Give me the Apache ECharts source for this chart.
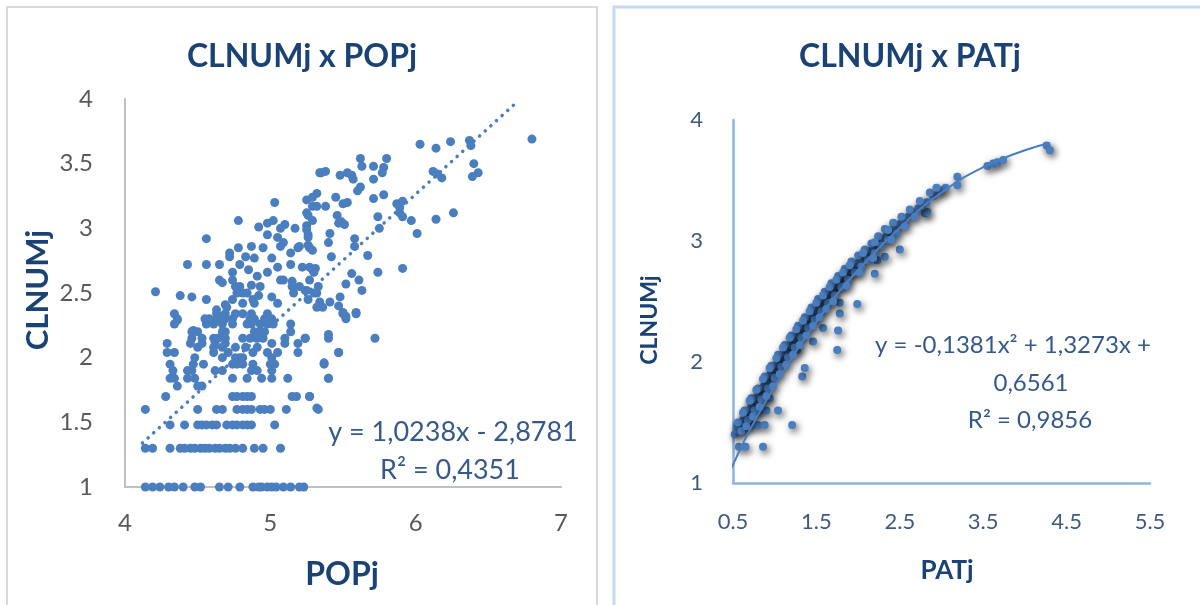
<!DOCTYPE html>
<html><head><meta charset="utf-8">
<script src="https://cdn.jsdelivr.net/npm/echarts@6/dist/echarts.min.js"></script>
<style>html,body{margin:0;padding:0;background:#fff}#c{width:1200px;height:605px}</style>
</head><body><div id="c"></div><script>
// ---------- Left chart: CLNUMj x POPj ----------
const leftTitle = 'CLNUMj x POPj';
const leftXName = 'POPj';
const yName = 'CLNUMj';
const leftXTicks = [4, 5, 6, 7];
const leftYTicks = [1, 1.5, 2, 2.5, 3, 3.5, 4];
// points grouped by CLNUMj level (discrete rows)
const rowLevels = [1.0, 1.3, 1.48, 1.6, 1.7, 1.78, 1.84, 1.9, 1.95, 2.0, 2.04, 2.08, 2.11, 2.15, 2.2, 2.26, 2.3, 2.34];
const rowPop = [
  [4.14,4.19,4.24,4.30,4.34,4.40,4.48,4.52,4.65,4.71,4.79,4.88,4.92,4.94,4.98,5.01,5.04,5.09,5.14,5.20,5.23],
  [4.14,4.19,4.31,4.38,4.41,4.45,4.48,4.52,4.55,4.58,4.62,4.65,4.69,4.72,4.76,4.81,4.89,4.95,5.07],
  [4.31,4.41,4.50,4.53,4.56,4.60,4.63,4.70,4.74,4.77,4.81,4.84,4.87,5.03],
  [4.14,4.50,4.63,4.67,4.77,4.81,4.84,4.87,4.93,4.96,5.00,5.11,5.33],
  [4.28,4.74,4.77,4.81,4.84,4.87,5.15,5.18,5.27],
  [4.36,4.50,4.53],
  [4.31,4.34,4.43,4.48,4.74,4.84,4.94,5.01,5.12,5.40],
  [4.33,4.43,4.46,4.62,4.67,4.87,4.91,5.01],
  [4.31,4.47,4.54,4.74,4.77,4.81,4.88,5.00,5.03,5.37],
  [4.48,4.67,4.76,4.79,4.81,5.01],
  [4.29,4.34,4.61,4.71,4.88,4.98,5.05,5.19,5.47],
  [4.50,4.61,4.67,4.76,4.83,4.91],
  [4.29,4.45,4.53,4.62,4.69,5.01,5.10,5.19],
  [4.46,4.53,4.61,4.64,4.69,4.81,4.86,4.91,4.95,5.10,5.24,5.40,5.72],
  [4.46,4.50,4.67,4.69,4.89,4.93,4.96,5.14],
  [4.34,4.56,4.61,4.67,4.74,4.84,4.87,4.93,4.98,5.02,5.14],
  [4.36,4.55,4.58,4.63,4.69,4.74,4.86,4.89,4.96,5.01,5.52],
  [4.34,4.63,4.69,4.76,4.81,4.87,4.98,5.50,5.59]
];
// remaining scattered points [POPj, CLNUMj]
const freePoints = [
  [5.34,3.43],[5.32,3.27],[5.25,3.22],[5.32,3.17],[5.03,3.20],[4.78,3.06],[4.98,3.04],[5.02,3.06],[4.92,3.01],[5.07,3.00],
  [5.10,3.03],[5.17,3.00],[5.25,3.02],[5.26,3.10],[4.56,2.92],[4.98,2.95],[5.05,2.93],[5.09,2.89],[5.07,2.86],[5.26,2.95],
  [4.87,2.86],[4.78,2.85],[4.72,2.81],[4.95,2.85],[5.19,2.85],[5.26,2.87],[5.29,2.83],[4.43,2.72],[4.56,2.72],[4.65,2.72],
  [4.83,2.78],[4.89,2.77],[5.01,2.77],[5.14,2.72],[5.22,2.70],[4.79,2.72],[4.85,2.68],[4.74,2.66],[4.98,2.66],[4.91,2.63],
  [5.07,2.60],[5.15,2.59],[5.29,2.68],[4.21,2.51],[4.38,2.48],[4.46,2.47],[4.56,2.45],[4.67,2.58],[4.76,2.55],[4.81,2.50],
  [4.87,2.56],[4.92,2.48],[5.01,2.47],[5.15,2.55],[5.25,2.52],[5.33,2.55],[4.69,2.41],[4.81,2.42],[4.89,2.42],[5.05,2.42],
  [4.36,2.29],[4.47,2.21],[4.56,2.29],[4.63,2.37],[4.67,2.32],[4.70,2.39],[4.74,2.45],[4.77,2.50],[4.79,2.55],[4.84,2.50],
  [4.88,2.45],[4.93,2.55],[4.74,2.60],[4.72,2.78],[4.65,2.60],[5.05,2.70],[5.09,2.60],[5.14,2.81],[5.20,2.86],[5.20,2.55],
  [5.27,2.70],[5.27,2.60],[5.32,2.50],[5.32,2.39],[5.16,2.50],[5.25,2.99],[5.29,3.06],[5.25,3.12],[5.29,3.24],[5.29,3.17],
  [5.62,3.54],[5.80,3.54],[5.63,3.48],[5.71,3.48],[5.78,3.47],[5.77,3.43],[5.35,3.43],[5.38,3.44],[5.48,3.41],[5.53,3.43],
  [5.56,3.41],[5.57,3.38],[5.71,3.38],[5.62,3.32],[5.60,3.29],[5.45,3.24],[5.71,3.23],[5.78,3.26],[5.50,3.19],[5.53,3.20],
  [5.38,3.17],[5.46,3.10],[5.49,3.05],[5.51,3.03],[5.47,3.04],[5.74,3.09],[5.75,3.00],[5.26,2.93],[5.41,2.96],[5.40,2.89],
  [5.58,2.92],[5.27,2.85],[5.42,2.78],[5.58,2.86],[5.67,2.79],[5.31,2.69],[5.30,2.66],[5.56,2.65],[5.61,2.60],[5.74,2.66],
  [5.91,2.69],[5.52,2.57],[5.63,2.52],[5.24,2.52],[5.30,2.50],[5.26,2.45],[5.34,2.43],[5.41,2.43],[5.48,2.47],[5.36,2.39],
  [5.47,2.40],[5.50,2.35],[5.52,2.32],[5.59,2.35],[5.40,2.18],[5.24,2.15],[5.47,2.04],[5.37,1.96],[5.40,1.84],
  [5.27,1.70],[5.32,1.61],[6.03,3.65],[6.14,3.62],[6.24,3.67],[6.37,3.68],[6.38,3.64],[6.80,3.69],[6.12,3.44],
  [6.15,3.42],[6.18,3.39],[6.40,3.50],[6.43,3.43],[6.39,3.40],[5.87,3.19],[5.89,3.16],[5.91,3.21],[5.89,3.12],[5.91,3.09],
  [5.97,3.06],[6.01,2.96],[6.14,3.07],[6.26,3.12]
];
// linear trendline end points (y = 1,0238x - 2,8781)
const leftTrendX = [4.12, 6.70];
const leftTrendY = [1.34, 3.98];
const leftEq = ['y = 1,0238x - 2,8781', 'R² = 0,4351'];

// ---------- Right chart: CLNUMj x PATj ----------
const rightTitle = 'CLNUMj x PATj';
const rightXName = 'PATj';
const rightXTicks = [0.5, 1.5, 2.5, 3.5, 4.5, 5.5];
const rightYTicks = [1, 2, 3, 4];
const patX = [
  0.57,0.65,0.86,0.55,0.60,0.66,0.73,0.80,0.88,1.21,0.70,0.76,0.82,0.90,1.04,0.72,0.80,0.86,0.94,
  1.33,1.36,1.75,1.76,1.99,2.20,2.50,2.80,1.27,1.46,1.58,1.78,1.78,2.23,2.32,2.83,
  0.52,0.55,0.58,0.60,0.62,0.65,0.67,0.70,0.72,0.75,0.77,0.80,0.82,0.85,0.87,0.90,0.92,0.95,0.97,1.00,
  1.02,1.05,1.08,1.10,1.12,1.15,1.18,1.20,1.23,1.25,1.28,1.30,1.33,1.35,1.38,1.40,1.43,1.45,1.48,1.50,
  1.53,1.55,1.58,1.60,1.63,1.65,1.68,1.70,1.73,1.75,1.78,1.80,1.83,1.85,1.88,1.90,1.93,1.95,1.98,2.00,
  2.05,2.10,2.15,2.20,2.25,2.30,2.35,2.40,2.45,2.50,2.55,2.60,2.66,2.72,2.77,2.82,2.90,2.96,3.00,3.05,
  3.19,3.19,3.55,3.62,3.67,3.74,4.26,4.30,
  0.56,0.64,0.72,0.80,0.88,0.96,1.04,1.12,1.20,1.28,1.36,1.44,1.52,1.60,1.68,1.76,1.84,1.92,2.00,2.08,
  2.16,2.24,2.32,2.42,2.52,2.62,2.74,2.86,2.94,
  0.60,0.68,0.76,0.84,0.92,1.00,1.08,1.16,1.24,1.32,1.40,1.48,1.56,1.64,1.72,1.80,1.88,1.96,2.04,2.12,
  2.20,2.28,2.36,2.46,2.56,2.68,
  0.62,0.70,0.78,0.86,0.94,1.02,1.10,1.18,1.26,1.34,1.42,1.50,1.58,1.66,1.74,1.82,1.90,2.06,2.20,2.36,
  0.66,0.74,0.82,0.90,0.98,1.06,1.14,1.22,1.30,1.38,1.46,1.54,1.62,1.70,1.86,2.02,2.18,2.40
];
const patY = [
  1.30,1.30,1.30,1.48,1.48,1.48,1.48,1.48,1.48,1.48,1.60,1.60,1.60,1.60,1.60,1.70,1.70,1.70,1.70,
  1.88,1.95,2.10,2.26,2.48,2.73,2.93,3.23,2.10,2.17,2.28,2.40,2.49,2.84,2.87,3.24,
  1.40,1.44,1.47,1.50,1.52,1.55,1.58,1.60,1.63,1.66,1.69,1.72,1.74,1.78,1.80,1.83,1.86,1.90,1.92,1.95,
  1.98,2.00,2.04,2.06,2.08,2.11,2.14,2.16,2.19,2.20,2.23,2.25,2.28,2.30,2.33,2.35,2.37,2.39,2.41,2.43,
  2.46,2.48,2.50,2.52,2.55,2.56,2.58,2.60,2.63,2.64,2.66,2.68,2.71,2.72,2.74,2.76,2.78,2.79,2.81,2.82,
  2.85,2.88,2.92,2.95,2.99,3.02,3.06,3.09,3.11,3.14,3.17,3.20,3.24,3.27,3.30,3.32,3.37,3.41,3.42,3.44,
  3.53,3.46,3.62,3.64,3.65,3.67,3.79,3.75,
  1.50,1.60,1.69,1.78,1.88,1.97,2.06,2.14,2.22,2.30,2.37,2.45,2.52,2.58,2.65,2.71,2.77,2.83,2.88,2.93,
  2.98,3.04,3.10,3.15,3.20,3.26,3.33,3.40,3.44,
  1.43,1.52,1.60,1.69,1.78,1.87,1.96,2.04,2.12,2.20,2.28,2.35,2.42,2.49,2.55,2.62,2.68,2.74,2.79,2.84,
  2.90,2.96,3.01,3.06,3.12,3.20,
  1.58,1.68,1.77,1.86,1.95,2.03,2.12,2.20,2.27,2.34,2.42,2.49,2.55,2.62,2.68,2.74,2.80,2.90,2.99,3.09,
  1.47,1.55,1.63,1.72,1.80,1.90,1.98,2.06,2.14,2.22,2.30,2.37,2.44,2.50,2.63,2.74,2.86,3.01
];
// polynomial trendline as it appears in the picture
const rightTrendX = [0.45, 0.5, 0.6, 0.75, 1.0, 1.25, 1.5, 1.75, 2.0, 2.5, 3.0, 3.5, 4.0, 4.3];
const rightTrendY = [1.08, 1.15, 1.30, 1.50, 1.80, 2.08, 2.33, 2.56, 2.76, 3.11, 3.40, 3.61, 3.75, 3.81];
const rightEq = ['y = -0,1381x² + 1,3273x +', '0,6561', 'R² = 0,9856'];

// ---------- build ----------
const leftPoints = [];
rowLevels.forEach((lv, i) => rowPop[i].forEach(x => leftPoints.push([x, lv])));
freePoints.forEach(p => leftPoints.push(p));
const rightPoints = patX.map((x, i) => [x, patY[i]]);

const FONT = 'Lato, "Open Sans", sans-serif';
const TITLE_C = '#1B4274';
const PT = '#4A7EBF';
const EQ_C = '#35598A';

const chart = echarts.init(document.getElementById('c'));
chart.setOption({
  animation: false,
  backgroundColor: '#fff',
  grid: [
    {left: 125, top: 99, width: 436, height: 388},
    {left: 733, top: 120, width: 417, height: 363}
  ],
  xAxis: [
    {type: 'value', gridIndex: 0, min: leftXTicks[0], max: leftXTicks[leftXTicks.length-1], interval: 1,
     axisLine: {show: true, lineStyle: {color: '#BFBFBF', width: 2}}, axisTick: {show: false}, splitLine: {show: false},
     axisLabel: {color: '#595959', fontSize: 24, margin: 24, fontFamily: FONT}},
    {type: 'value', gridIndex: 1, min: rightXTicks[0], max: rightXTicks[rightXTicks.length-1], interval: 0.5,
     axisLine: {show: true, lineStyle: {color: '#8DB4E2', width: 2.5}}, axisTick: {show: false}, splitLine: {show: false},
     axisLabel: {color: '#3F5A80', fontSize: 22, margin: 28, fontFamily: FONT,
       formatter: v => rightXTicks.some(t => Math.abs(t - v) < 1e-6) ? v.toFixed(1) : ''}}
  ],
  yAxis: [
    {type: 'value', gridIndex: 0, min: leftYTicks[0], max: leftYTicks[leftYTicks.length-1], interval: 0.5,
     axisLine: {show: true, lineStyle: {color: '#BFBFBF', width: 2}}, axisTick: {show: false}, splitLine: {show: false},
     axisLabel: {color: '#595959', fontSize: 24, margin: 32, align: 'right', fontFamily: FONT}},
    {type: 'value', gridIndex: 1, min: rightYTicks[0], max: rightYTicks[rightYTicks.length-1], interval: 1,
     axisLine: {show: true, lineStyle: {color: '#8DB4E2', width: 2.5}}, axisTick: {show: false}, splitLine: {show: false},
     axisLabel: {color: '#3F5A80', fontSize: 22, margin: 30, align: 'right', fontFamily: FONT}}
  ],
  series: [
    {type: 'scatter', xAxisIndex: 0, yAxisIndex: 0, data: leftPoints, symbolSize: 9,
     itemStyle: {color: PT, opacity: 1}},
    {type: 'line', xAxisIndex: 0, yAxisIndex: 0, data: leftTrendX.map((x, i) => [x, leftTrendY[i]]),
     symbol: 'none', lineStyle: {color: PT, width: 3.5, type: [0.1, 7.5], cap: 'round'}},
    {type: 'scatter', xAxisIndex: 1, yAxisIndex: 1, data: rightPoints, symbolSize: 8,
     itemStyle: {color: PT, opacity: 1, shadowBlur: 7, shadowColor: 'rgba(0,0,0,0.7)', shadowOffsetX: 2, shadowOffsetY: 3}},
    {type: 'line', xAxisIndex: 1, yAxisIndex: 1, data: rightTrendX.map((x, i) => [x, rightTrendY[i]]),
     symbol: 'none', smooth: true, clip: true, lineStyle: {color: PT, width: 2}}
  ],
  graphic: [
    {type: 'rect', shape: {x: 7, y: 7, width: 590, height: 620}, style: {fill: 'none', stroke: '#D9D9D9', lineWidth: 2}, silent: true},
    {type: 'rect', shape: {x: 614, y: 7, width: 600, height: 620}, style: {fill: 'none', stroke: '#C6D9F1', lineWidth: 3}, silent: true},
    {type: 'text', x: 302, y: 57, style: {text: leftTitle, font: 'bold 32px ' + FONT, fill: TITLE_C, textAlign: 'center', textVerticalAlign: 'middle'}},
    {type: 'text', x: 910, y: 57, style: {text: rightTitle, font: 'bold 32px ' + FONT, fill: TITLE_C, textAlign: 'center', textVerticalAlign: 'middle'}},
    {type: 'text', x: 342, y: 575, style: {text: leftXName, font: 'bold 32px ' + FONT, fill: TITLE_C, textAlign: 'center', textVerticalAlign: 'middle'}},
    {type: 'text', x: 947, y: 571, style: {text: rightXName, font: 'bold 26px ' + FONT, fill: TITLE_C, textAlign: 'center', textVerticalAlign: 'middle'}},
    {type: 'text', x: 38, y: 290, rotation: Math.PI / 2, style: {text: yName, font: 'bold 31px ' + FONT, fill: TITLE_C, textAlign: 'center', textVerticalAlign: 'middle'}},
    {type: 'text', x: 650, y: 320, rotation: Math.PI / 2, style: {text: yName, font: 'bold 23px ' + FONT, fill: TITLE_C, textAlign: 'center', textVerticalAlign: 'middle'}},
    {type: 'text', x: 453, y: 432, style: {text: leftEq[0], font: '27px ' + FONT, fill: EQ_C, textAlign: 'center', textVerticalAlign: 'middle'}},
    {type: 'text', x: 450, y: 470, style: {text: leftEq[1], font: '27px ' + FONT, fill: EQ_C, textAlign: 'center', textVerticalAlign: 'middle'}},
    {type: 'text', x: 1013, y: 345, style: {text: rightEq[0], font: '24px ' + FONT, fill: EQ_C, textAlign: 'center', textVerticalAlign: 'middle'}},
    {type: 'text', x: 1031, y: 383, style: {text: rightEq[1], font: '24px ' + FONT, fill: EQ_C, textAlign: 'center', textVerticalAlign: 'middle'}},
    {type: 'text', x: 1030, y: 420, style: {text: rightEq[2], font: '24px ' + FONT, fill: EQ_C, textAlign: 'center', textVerticalAlign: 'middle'}}
  ]
});
</script></body></html>
